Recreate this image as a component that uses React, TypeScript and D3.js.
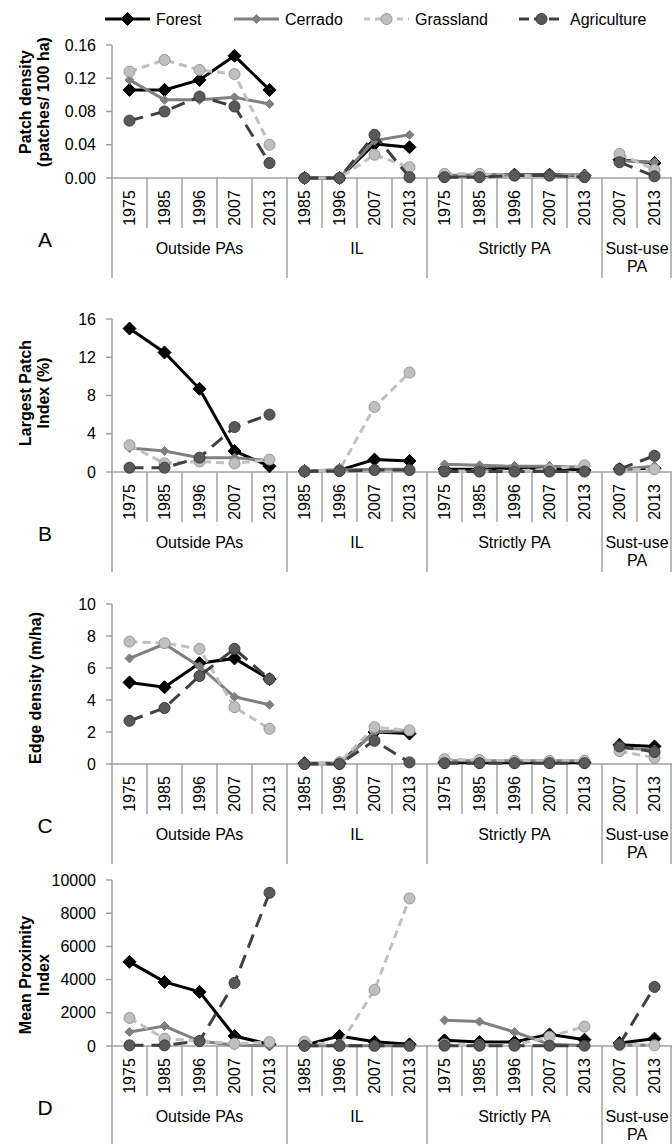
import React, { useEffect, useRef } from 'react';
import * as d3 from 'd3';

// categories along the x axis, one per column, grouped by protection type
const groupNames = ['Outside PAs', 'IL', 'Strictly PA', 'Sust-use\nPA'];
const groupYears = [
  ['1975', '1985', '1996', '2007', '2013'],
  ['1985', '1996', '2007', '2013'],
  ['1975', '1985', '1996', '2007', '2013'],
  ['2007', '2013'],
];

const seriesNames = ['Forest', 'Cerrado', 'Grassland', 'Agriculture'];

// A - patch density
const pdForest = [0.106, 0.106, 0.118, 0.147, 0.106, 0, 0, 0.041, 0.037, 0.002, 0.003, 0.004, 0.004, 0.003, 0.022, 0.018];
const pdCerrado = [0.118, 0.094, 0.094, 0.097, 0.089, 0, 0, 0.045, 0.052, 0.003, 0.004, 0.004, 0.003, 0.004, 0.021, 0.019];
const pdGrassland = [0.128, 0.142, 0.130, 0.125, 0.040, 0, 0, 0.028, 0.013, 0.005, 0.005, 0.003, 0.003, 0.002, 0.029, 0.010];
const pdAgriculture = [0.069, 0.080, 0.098, 0.086, 0.018, 0, 0, 0.052, 0.001, 0.001, 0.001, 0.003, 0.003, 0.001, 0.019, 0.002];

// B - largest patch index
const lpiForest = [15.0, 12.5, 8.7, 2.2, 0.6, 0.1, 0.2, 1.3, 1.15, 0.3, 0.3, 0.4, 0.4, 0.2, 0.3, 0.4];
const lpiCerrado = [2.5, 2.2, 1.5, 1.5, 1.2, 0.1, 0.2, 0.3, 0.3, 0.8, 0.7, 0.6, 0.6, 0.5, 0.3, 0.6];
const lpiGrassland = [2.8, 0.9, 1.1, 0.9, 1.3, 0.1, 0.2, 6.8, 10.4, 0.1, 0.1, 0.1, 0.3, 0.7, 0.2, 0.3];
const lpiAgriculture = [0.45, 0.45, 1.5, 4.7, 6.0, 0.05, 0.1, 0.2, 0.2, 0.05, 0.05, 0.05, 0.05, 0.05, 0.3, 1.7];

// C - edge density
const edForest = [5.1, 4.8, 6.3, 6.6, 5.3, 0.05, 0.05, 2.0, 1.9, 0.1, 0.1, 0.1, 0.1, 0.1, 1.2, 1.1];
const edCerrado = [6.6, 7.5, 6.1, 4.2, 3.7, 0, 0, 2.0, 2.1, 0.2, 0.2, 0.2, 0.2, 0.2, 1.0, 0.9];
const edGrassland = [7.65, 7.55, 7.2, 3.55, 2.2, 0, 0.1, 2.3, 2.1, 0.3, 0.25, 0.2, 0.2, 0.2, 0.8, 0.4];
const edAgriculture = [2.7, 3.5, 5.5, 7.2, 5.3, 0, 0, 1.45, 0.1, 0.05, 0.05, 0.05, 0.05, 0.05, 1.1, 0.75];

// D - mean proximity index
const mpiForest = [5070, 3860, 3260, 600, 100, 50, 600, 250, 100, 340, 240, 240, 700, 380, 180, 440];
const mpiCerrado = [845, 1200, 300, 50, 20, 20, 20, 20, 20, 1550, 1470, 845, 100, 30, 60, 50];
const mpiGrassland = [1690, 440, 300, 140, 240, 260, 50, 3380, 8890, 100, 50, 50, 560, 1170, 50, 40];
const mpiAgriculture = [40, 40, 300, 3800, 9230, 10, 10, 10, 10, 20, 20, 20, 20, 20, 100, 3560];

const panels = [
  { letter: 'A', title: ['Patch density', '(patches/ 100 ha)'], max: 0.16, step: 0.04, fmt: d3.format('.2f'), top: 45, zero: 178, titleY: 102,
    values: [pdForest, pdCerrado, pdGrassland, pdAgriculture] },
  { letter: 'B', title: ['Largest Patch', 'Index (%)'], max: 16, step: 4, fmt: d3.format('d'), top: 319, zero: 472, titleY: 393,
    values: [lpiForest, lpiCerrado, lpiGrassland, lpiAgriculture] },
  { letter: 'C', title: ['Edge density (m/ha)'], max: 10, step: 2, fmt: d3.format('d'), top: 604, zero: 764, titleY: 688,
    values: [edForest, edCerrado, edGrassland, edAgriculture] },
  { letter: 'D', title: ['Mean Proximity', 'Index'], max: 10000, step: 2000, fmt: d3.format('d'), top: 880, zero: 1046, titleY: 975,
    values: [mpiForest, mpiCerrado, mpiGrassland, mpiAgriculture] },
];

// look of each series
const styles = [
  { stroke: '#000000', dash: null, marker: 'diamond', size: 6.5, fill: '#000000', mstroke: '#000000' },
  { stroke: '#808080', dash: null, marker: 'diamond', size: 4.5, fill: '#808080', mstroke: '#808080' },
  { stroke: '#c0c0c0', dash: '8,5', marker: 'circle', size: 5.5, fill: '#bfbfbf', mstroke: '#969696' },
  { stroke: '#404040', dash: '14,8', marker: 'circle', size: 5.5, fill: '#595959', mstroke: '#3a3a3a' },
];

const FONT = 'Liberation Sans, Arial, sans-serif';
const AXIS = '#a0a0a0';

function drawMarker(g, st, x, y) {
  if (st.marker === 'diamond') {
    const s = st.size;
    g.append('path')
      .attr('d', `M${x},${y - s}L${x + s},${y}L${x},${y + s}L${x - s},${y}Z`)
      .attr('fill', st.fill)
      .attr('stroke', st.mstroke);
  } else {
    g.append('circle')
      .attr('cx', x).attr('cy', y).attr('r', st.size)
      .attr('fill', st.fill)
      .attr('stroke', st.mstroke)
      .attr('stroke-width', 1);
  }
}

function App() {
  const ref = useRef(null);

  useEffect(() => {
    const svg = d3.select(ref.current);
    svg.selectAll('*').remove();

    // flatten categories, remember where each group starts and ends
    const cats = [];
    const bounds = [];
    groupYears.forEach((years, gi) => {
      const start = cats.length;
      years.forEach(y => cats.push({ year: y, group: gi }));
      bounds.push([start, cats.length - 1]);
    });

    const x = d3.scaleBand().domain(d3.range(cats.length)).range([112, 672]);

    // legend
    const legend = svg.append('g').attr('font-family', FONT).attr('font-size', 16);
    const legendX = [105, 234, 364, 519];
    seriesNames.forEach((name, i) => {
      const st = styles[i];
      const lx = legendX[i];
      legend.append('line')
        .attr('x1', lx).attr('x2', lx + 45).attr('y1', 19).attr('y2', 19)
        .attr('stroke', st.stroke).attr('stroke-width', 3)
        .attr('stroke-dasharray', st.dash ? (i === 2 ? '6,5' : '10,5') : null);
      drawMarker(legend, st, lx + 22.5, 19);
      legend.append('text')
        .attr('x', lx + 51).attr('y', 19).attr('dy', '0.35em')
        .attr('fill', '#000')
        .text(name);
    });

    panels.forEach(p => {
      const g = svg.append('g').attr('font-family', FONT);
      const y = d3.scaleLinear().domain([0, p.max]).range([p.zero, p.top]);
      const ticks = d3.range(0, p.max + p.step / 2, p.step);

      // y axis
      g.append('line')
        .attr('x1', 112).attr('x2', 112).attr('y1', y(p.max)).attr('y2', y(0))
        .attr('stroke', AXIS).attr('stroke-width', 1.5);
      ticks.forEach(t => {
        g.append('line')
          .attr('x1', 106).attr('x2', 112).attr('y1', y(t)).attr('y2', y(t))
          .attr('stroke', AXIS).attr('stroke-width', 1.5);
        g.append('text')
          .attr('x', 96).attr('y', y(t)).attr('dy', '0.35em')
          .attr('text-anchor', 'end').attr('font-size', 16).attr('fill', '#000')
          .text(p.fmt(t));
      });

      // y axis title
      const tx = p.title.length === 2 ? [25, 43] : [35];
      p.title.forEach((line, li) => {
        g.append('text')
          .attr('transform', `translate(${tx[li]},${p.titleY}) rotate(-90)`)
          .attr('text-anchor', 'middle').attr('dy', '0.35em')
          .attr('font-size', 16).attr('font-weight', 'bold').attr('fill', '#000')
          .text(line);
      });

      // x axis line and category dividers
      g.append('line')
        .attr('x1', 112).attr('x2', 672).attr('y1', p.zero).attr('y2', p.zero)
        .attr('stroke', AXIS).attr('stroke-width', 1.5);
      cats.forEach((c, i) => {
        const xl = x(i);
        const isGroupEdge = bounds.some(b => b[0] === i);
        g.append('line')
          .attr('x1', xl).attr('x2', xl).attr('y1', p.zero).attr('y2', p.zero + (isGroupEdge ? 100 : 50))
          .attr('stroke', AXIS).attr('stroke-width', 1.5);
        g.append('text')
          .attr('transform', `translate(${xl + x.bandwidth() / 2},${p.zero + 30}) rotate(-90)`)
          .attr('text-anchor', 'middle').attr('dy', '0.35em')
          .attr('font-size', 16).attr('fill', '#000')
          .text(c.year);
      });
      g.append('line')
        .attr('x1', 671).attr('x2', 671).attr('y1', p.zero).attr('y2', p.zero + 100)
        .attr('stroke', AXIS).attr('stroke-width', 1.5);

      // group labels
      bounds.forEach((b, gi) => {
        const cx = (x(b[0]) + x(b[1]) + x.bandwidth()) / 2;
        groupNames[gi].split('\n').forEach((line, li) => {
          g.append('text')
            .attr('x', cx).attr('y', p.zero + 70 + li * 18).attr('dy', '0.35em')
            .attr('text-anchor', 'middle').attr('font-size', 16).attr('fill', '#000')
            .text(line);
        });
      });

      // panel letter
      g.append('text')
        .attr('x', 45).attr('y', p.zero + 62).attr('dy', '0.35em')
        .attr('text-anchor', 'middle').attr('font-size', 21).attr('fill', '#000')
        .text(p.letter);

      // series, one separate line per group
      p.values.forEach((vals, si) => {
        const st = styles[si];
        const sg = g.append('g');
        const ln = d3.line()
          .x(i => x(i) + x.bandwidth() / 2)
          .y(i => y(vals[i]));
        bounds.forEach(b => {
          sg.append('path')
            .attr('d', ln(d3.range(b[0], b[1] + 1)))
            .attr('fill', 'none')
            .attr('stroke', st.stroke).attr('stroke-width', 3)
            .attr('stroke-dasharray', st.dash);
        });
        vals.forEach((v, i) => drawMarker(sg, st, x(i) + x.bandwidth() / 2, y(v)));
      });
    });
  }, []);

  return (
    <svg ref={ref} width={672} height={1144}
      style={{ position: 'absolute', left: 0, top: 0, background: '#fff' }} />
  );
}

export default App;
